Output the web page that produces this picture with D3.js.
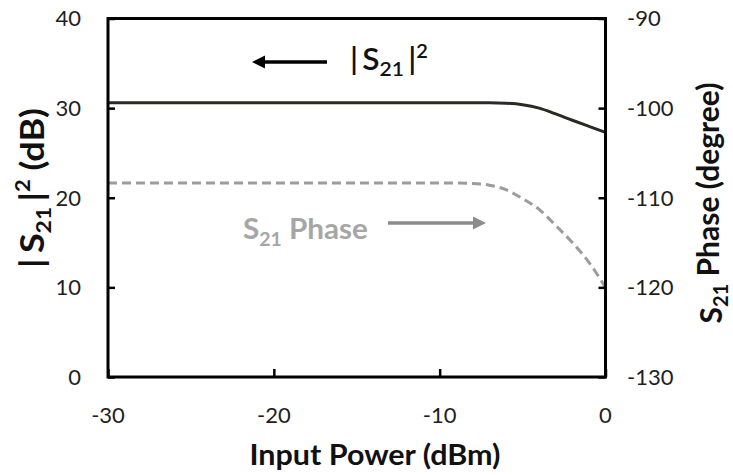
<!DOCTYPE html>
<html>
<head>
<meta charset="utf-8">
<script src="https://cdn.jsdelivr.net/npm/d3@7"></script>
<style>
  html, body { margin: 0; padding: 0; background: #fff; }
  svg text { font-family: Lato, "Open Sans", sans-serif; }
</style>
</head>
<body>
<svg id="chart" width="733" height="475"></svg>
<script>
// Input power sweep (dBm)
const inputPower = [-30, -25, -20, -15, -10, -8, -7, -6, -5, -4, -3, -2, -1, 0];
// |S21|^2 gain (dB), left axis
const gainDb = [30.6, 30.6, 30.6, 30.6, 30.6, 30.6, 30.6, 30.55, 30.38, 30.0, 29.35, 28.65, 27.97, 27.3];
// S21 phase (degree), right axis
const phaseDeg = [-108.35, -108.35, -108.35, -108.35, -108.35, -108.4, -108.6, -109.1, -110.1, -111.3, -113.1, -115.0, -117.2, -120.0];

const xTicks = [-30, -20, -10, 0];
const leftTicks = [0, 10, 20, 30, 40];
const rightTicks = [-130, -120, -110, -100, -90];

const svg = d3.select("#chart");
const plot = { left: 108, right: 605.5, top: 18.5, bottom: 377 };

const x = d3.scaleLinear().domain([-30, 0]).range([plot.left, plot.right]);
const yL = d3.scaleLinear().domain([0, 40]).range([plot.bottom, plot.top]);
const yR = d3.scaleLinear().domain([-130, -90]).range([plot.bottom, plot.top]);

const tickColor = "#1e1e1e";
const titleColor = "#111";

// Stretch a text element along its baseline so it spans `target` pixels.
function fitText(sel, target, base) {
  const w = sel.node().getBBox().width;
  sel.attr("transform", `${base} scale(${target / w},1)`);
}

// Data lines
const gainLine = d3.line()
  .x((d, i) => x(inputPower[i]))
  .y(d => yL(d))
  .curve(d3.curveMonotoneX);
const phaseLine = d3.line()
  .x((d, i) => x(inputPower[i]))
  .y(d => yR(d))
  .curve(d3.curveMonotoneX);

svg.append("path")
  .datum(phaseDeg)
  .attr("d", phaseLine)
  .attr("fill", "none")
  .attr("stroke", "#9c9c9c")
  .attr("stroke-width", 3)
  .attr("stroke-dasharray", "9,5");

svg.append("path")
  .datum(gainDb)
  .attr("d", gainLine)
  .attr("fill", "none")
  .attr("stroke", "#2a2a24")
  .attr("stroke-width", 3);

// Axes (ticks point into the plot)
const axisLeft = d3.axisRight(yL).tickValues(leftTicks).tickSize(7).tickFormat("");
const axisRight = d3.axisLeft(yR).tickValues(rightTicks).tickSize(7).tickFormat("");
const axisBottom = d3.axisTop(x).tickValues(xTicks).tickSize(8).tickFormat("");

function styleAxis(g) {
  g.select(".domain").remove();
  g.selectAll(".tick line").attr("stroke", "#000").attr("stroke-width", 2.5);
}
svg.append("g").attr("transform", `translate(${plot.left},0)`).call(axisLeft).call(styleAxis);
svg.append("g").attr("transform", `translate(${plot.right},0)`).call(axisRight).call(styleAxis);
svg.append("g").attr("transform", `translate(0,${plot.bottom})`).call(axisBottom).call(styleAxis);

// Frame
svg.append("rect")
  .attr("x", plot.left).attr("y", plot.top)
  .attr("width", plot.right - plot.left).attr("height", plot.bottom - plot.top)
  .attr("fill", "none").attr("stroke", "#000").attr("stroke-width", 3);

// Tick labels
svg.append("g").selectAll("text").data(leftTicks).join("text")
  .attr("x", 81).attr("y", d => yL(d)).attr("dy", "0.36em")
  .attr("text-anchor", "end").attr("font-size", 22).attr("fill", tickColor)
  .text(d => d);
svg.append("g").selectAll("text").data(rightTicks).join("text")
  .attr("x", 627).attr("y", d => yR(d)).attr("dy", "0.36em")
  .attr("text-anchor", "start").attr("font-size", 22).attr("fill", tickColor)
  .text(d => d);
svg.append("g").selectAll("text").data(xTicks).join("text")
  .attr("x", d => x(d)).attr("y", 415).attr("dy", "0.36em")
  .attr("text-anchor", "middle").attr("font-size", 22).attr("fill", tickColor)
  .text(d => d);

// Axis titles
const xTitle = svg.append("text")
  .attr("text-anchor", "middle").attr("font-size", 29).attr("font-weight", "bold")
  .attr("fill", titleColor)
  .text("Input Power (dBm)");
fitText(xTitle, 251, "translate(375,465)");

const leftTitle = svg.append("text")
  .attr("text-anchor", "middle")
  .attr("font-size", 33).attr("font-weight", "bold").attr("fill", titleColor);
leftTitle.append("tspan").text("|");
leftTitle.append("tspan").attr("dx", 5).text("S");
leftTitle.append("tspan").attr("font-size", 21).attr("dy", 7).text("21");
leftTitle.append("tspan").attr("dx", 5).attr("dy", -7).text("|");
leftTitle.append("tspan").attr("font-size", 20).attr("dy", -14).text("2");
leftTitle.append("tspan").attr("dy", 14).text(" (dB)");
fitText(leftTitle, 160, "translate(44,188) rotate(-90)");

const rightTitle = svg.append("text")
  .attr("transform", "translate(711,203) rotate(-90)")
  .attr("dy", "0.35em").attr("text-anchor", "middle")
  .attr("font-size", 30).attr("font-weight", "bold").attr("fill", titleColor);
rightTitle.append("tspan").text("S");
rightTitle.append("tspan").attr("font-size", 20).attr("dy", "0.3em").text("21");
rightTitle.append("tspan").attr("dy", "-0.3em").text(" Phase (degree)");

// Arrow: shaft plus filled head at (x2, y)
function arrow(x1, x2, y, color) {
  const dir = Math.sign(x2 - x1);
  const headLen = 13, headHalf = 6.5;
  svg.append("line")
    .attr("x1", x1).attr("y1", y).attr("x2", x2 - dir * (headLen - 2)).attr("y2", y)
    .attr("stroke", color).attr("stroke-width", 3.5);
  svg.append("path")
    .attr("d", `M${x2},${y} L${x2 - dir * headLen},${y - headHalf} L${x2 - dir * headLen},${y + headHalf} Z`)
    .attr("fill", color);
}

// |S21|^2 annotation (points to the left axis)
arrow(327, 252, 62, "#000");
const magLabel = svg.append("text")
  .attr("font-size", 30).attr("font-weight", 600).attr("fill", "#111");
magLabel.append("tspan").text("|");
magLabel.append("tspan").attr("dx", 4).text("S");
magLabel.append("tspan").attr("font-size", 20).attr("dy", 6).text("21");
magLabel.append("tspan").attr("dx", 4).attr("dy", -6).text("|");
magLabel.append("tspan").attr("font-size", 19).attr("dy", -12).text("2");
fitText(magLabel, 78, "translate(350,70)");

// S21 Phase annotation (points to the right axis)
const phLabel = svg.append("text")
  .attr("font-size", 29).attr("font-weight", "bold").attr("fill", "#a6a6a6");
phLabel.append("tspan").text("S");
phLabel.append("tspan").attr("font-size", 19).attr("dy", 7).text("21");
phLabel.append("tspan").attr("dy", -7).text(" Phase");
fitText(phLabel, 125, "translate(243,239)");
arrow(388, 486, 223, "#8c8c8c");
</script>
</body>
</html>
